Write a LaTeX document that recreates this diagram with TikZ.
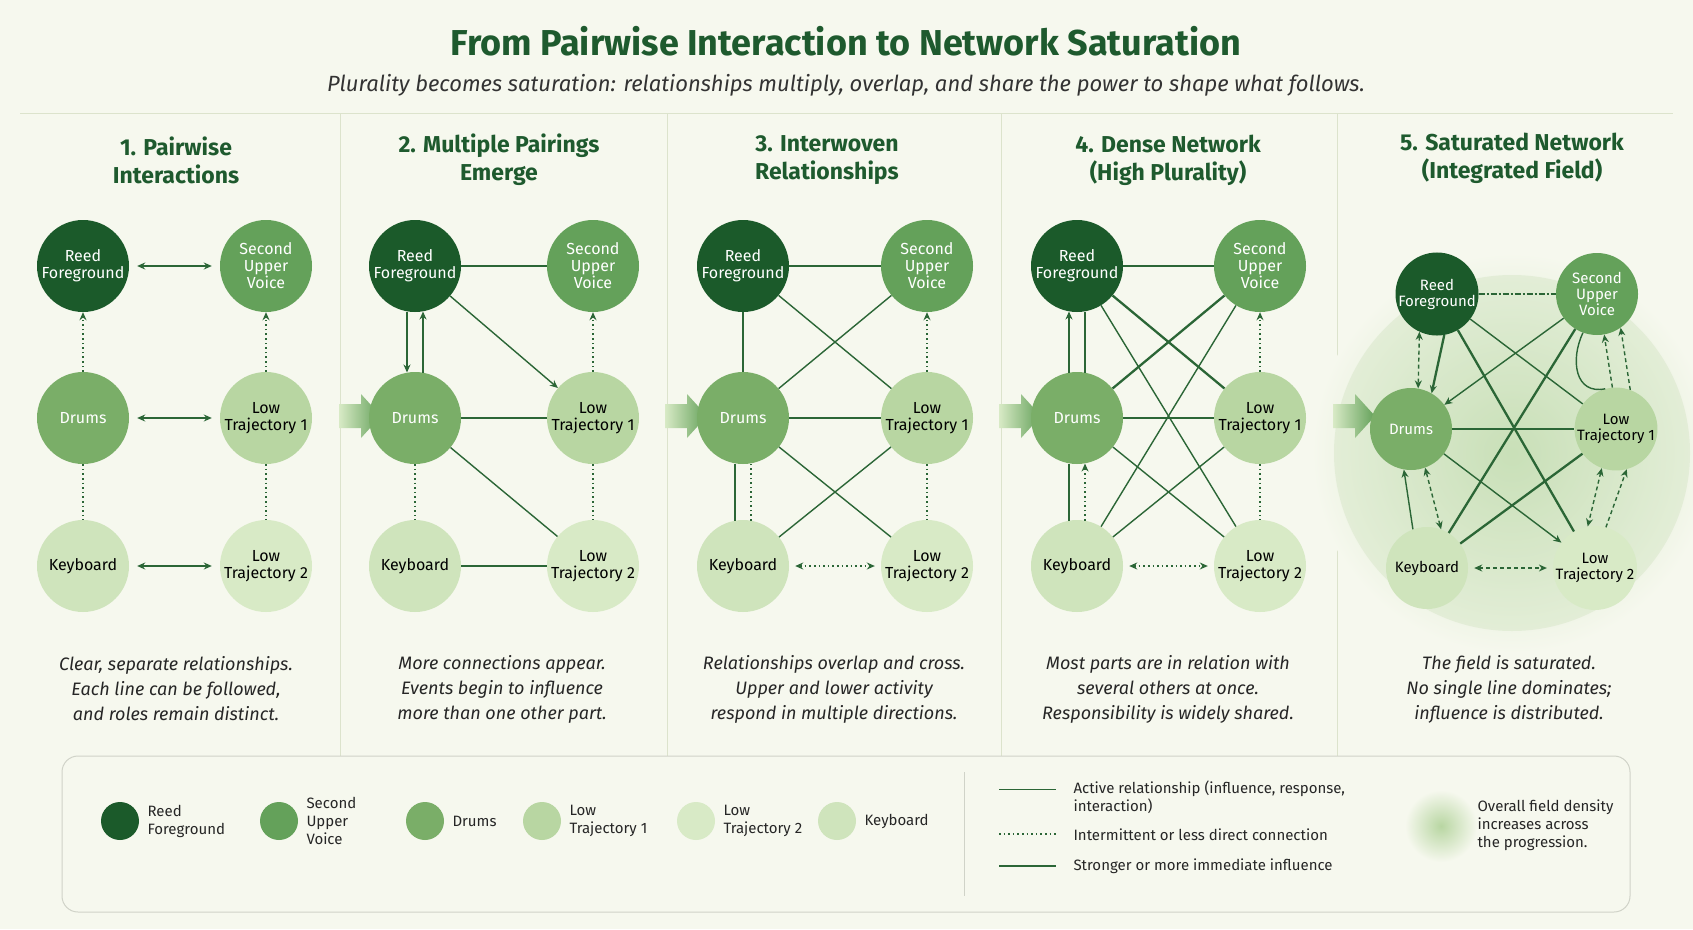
\documentclass[tikz,border=0pt]{standalone}
\usepackage{fontspec}
\setmainfont{Fira Sans}
\usetikzlibrary{arrows.meta,calc}
\definecolor{bg}{HTML}{F6F8EE}
\definecolor{dk}{HTML}{1E5A2E}
\definecolor{ec}{HTML}{2B6636}
\definecolor{cR}{HTML}{1B5A2A}
\definecolor{cS}{HTML}{64A15A}
\definecolor{cD}{HTML}{7AAE68}
\definecolor{cA}{HTML}{B8D6A2}
\definecolor{cB}{HTML}{D8EAC6}
\definecolor{cK}{HTML}{CFE4BC}
\definecolor{sep}{HTML}{DCE3CC}
\definecolor{glow}{HTML}{C9E0B8}
\begin{document}
\begin{tikzpicture}[x=1pt,y=-1pt,
 nd/.style={circle,minimum size=92pt,inner sep=0pt,align=center,font=\fontsize{16}{17}\selectfont},
 sn/.style={nd,minimum size=82pt,font=\fontsize{15}{16}\selectfont},
 wt/.style={text=white},
 ln/.style={draw=ec,line width=1.4pt},
 tk/.style={draw=ec,line width=2.3pt},
 dt/.style={draw=ec,line width=1.6pt,dash pattern=on 1.6pt off 3pt},
 dsh/.style={draw=ec,line width=1.4pt,dash pattern=on 4pt off 3pt},
 ar/.style={-{Stealth[length=8pt,width=7pt]}},
 ba/.style={{Stealth[length=8pt,width=7pt]}-{Stealth[length=8pt,width=7pt]}},
 ptitle/.style={font=\bfseries\fontsize{23}{28}\selectfont,text=dk,align=center},
 captxt/.style={font=\itshape\fontsize{18}{25}\selectfont,align=center,text=black!85},
 lg/.style={font=\fontsize{15}{18}\selectfont,align=left,anchor=west,text=black!85}]
\fill[bg] (0,0) rectangle (1693,929);
\useasboundingbox (0,0) rectangle (1693,929);
\node[font=\bfseries\fontsize{36}{40}\selectfont,text=dk] (title) at (846,41) {From Pairwise Interaction to Network Saturation};
\node[font=\itshape\fontsize{22}{26}\selectfont,text=black!80] (sub) at (846,85) {Plurality becomes saturation: relationships multiply, overlap, and share the power to shape what follows.};
\draw[sep,line width=1pt] (20,113) -- (1673,113);
\foreach \x in {340,667,1001,1337} \draw[sep,line width=1pt] (\x,113) -- (\x,756);
% panel titles
\node[ptitle] (t1) at (176,160) {1. Pairwise\\Interactions};
\node[ptitle] (t2) at (499,160) {2. Multiple Pairings\\Emerge};
\node[ptitle] (t3) at (827,160) {3. Interwoven\\Relationships};
\node[ptitle] (t4) at (1168,160) {4. Dense Network\\(High Plurality)};
\node[ptitle] (t5) at (1512,158) {5. Saturated Network\\(Integrated Field)};
% glow
\shade[inner color=glow,outer color=bg] (1512,453) circle (200);
\fill[glow,opacity=0.35] (1512,453) circle (178);
% panel arrows
\foreach \x in {357,683,1017,1351}{
 \shade[left color=cB,right color=cS] (\x-18,404) -- (\x+4,404) -- (\x+4,394) -- (\x+24,416) -- (\x+4,438) -- (\x+4,428) -- (\x-18,428) -- cycle;}
% nodes
\newcommand\mkpanel[4]{%
 \node[nd,fill=cR,wt] (#1R) at (#2,266) {Reed\\Foreground};
 \node[nd,fill=cS,wt] (#1S) at (#3,266) {Second\\Upper\\Voice};
 \node[nd,fill=cD,wt] (#1D) at (#2,418) {Drums};
 \node[nd,fill=cA] (#1A) at (#3,418) {Low\\Trajectory 1};
 \node[nd,fill=cK] (#1K) at (#2,566) {Keyboard};
 \node[nd,fill=cB] (#1B) at (#3,566) {Low\\Trajectory 2};}
\mkpanel{a}{83}{266}{}
\mkpanel{b}{415}{593}{}
\mkpanel{c}{743}{927}{}
\mkpanel{d}{1077}{1260}{}
\node[sn,fill=cR,wt] (eR) at (1437,294) {Reed\\Foreground};
\node[sn,fill=cS,wt] (eS) at (1597,294) {Second\\Upper\\Voice};
\node[sn,fill=cD,wt] (eD) at (1411,429) {Drums};
\node[sn,fill=cA] (eA) at (1616,429) {Low\\Trajectory 1};
\node[sn,fill=cK] (eK) at (1427,568) {Keyboard};
\node[sn,fill=cB] (eB) at (1595,568) {Low\\Trajectory 2};
% panel 1
\draw[ln,ba,shorten <=8pt,shorten >=8pt] (aR) -- (aS);
\draw[ln,ba,shorten <=8pt,shorten >=8pt] (aD) -- (aA);
\draw[ln,ba,shorten <=8pt,shorten >=8pt] (aK) -- (aB);
\draw[dt,ar] (aD) -- (aR);
\draw[dt,ar] (aA) -- (aS);
\draw[dt] (aD) -- (aK);
\draw[dt] (aA) -- (aB);
% panel 2
\draw[ln] (bR) -- (bS);
\draw[ln,ar] (bR.-100) -- (bD.100);
\draw[ln,ar] (bD.80) -- (bR.-80);
\draw[ln,ar] (bR) -- (bA);
\draw[ln] (bD) -- (bA);
\draw[ln] (bD) -- (bB);
\draw[ln] (bK) -- (bB);
\draw[dt,ar] (bA) -- (bS);
\draw[dt] (bD) -- (bK);
\draw[dt] (bA) -- (bB);
% panel 3
\draw[ln] (cR) -- (cS);
\draw[ln] (cR) -- (cD);
\draw[ln] (cR) -- (cA);
\draw[ln] (cS) -- (cD);
\draw[ln] (cD) -- (cA);
\draw[ln] (cD) -- (cB);
\draw[ln] (cK) -- (cA);
\draw[ln] (cK.100) -- (cD.-100);
\draw[dt] (cK.80) -- (cD.-80);
\draw[dt,ar] (cA) -- (cS);
\draw[dt] (cA) -- (cB);
\draw[dt,ba,shorten <=6pt,shorten >=6pt] (cK) -- (cB);
% panel 4
\draw[ln] (dR) -- (dS);
\draw[ln,ar] (dD.100) -- (dR.-100);
\draw[ln] (dR.-80) -- (dD.80);
\draw[tk] (dR) -- (dA);
\draw[ln] (dR) -- (dB);
\draw[tk] (dS) -- (dD);
\draw[ln] (dS) -- (dK);
\draw[tk] (dD) -- (dA);
\draw[ln] (dD) -- (dB);
\draw[ln] (dK) -- (dA);
\draw[ln] (dK.100) -- (dD.-100);
\draw[dt,ar] (dK.80) -- (dD.-80);
\draw[dt,ar] (dA) -- (dS);
\draw[dt] (dA) -- (dB);
\draw[dt,ba,shorten <=6pt,shorten >=6pt] (dK) -- (dB);
% panel 5
\draw[ec,line width=1.3pt,dash pattern=on 6pt off 2pt on 2pt off 2pt] (eR) -- (eS);
\draw[dsh,ba] (eR.-115) -- (eD.80);
\draw[tk,ar] (eR.-80) -- (eD.60);
\draw[ln] (eR) -- (eA);
\draw[tk] (eR) -- (eB);
\draw[ln,ar] (eS) -- (eD);
\draw[tk] (eK) -- (eS);
\draw[ln] (eS.-110) .. controls (1570,360) and (1575,395) .. (eA.105);
\draw[dsh,ar] (eA.95) -- (eS.-80);
\draw[dsh,ar] (eA.70) -- (eS.-55);
\draw[tk] (eD) -- (eA);
\draw[ln,ar] (eD) -- (eB);
\draw[ln,ar] (eK.110) -- (eD.-100);
\draw[dsh,ba] (eK.70) -- (eD.-70);
\draw[tk] (eK) -- (eA);
\draw[dsh,ba] (eA.-110) -- (eB.100);
\draw[dsh,ar] (eB.75) -- (eA.-75);
\draw[dsh,ba,shorten <=6pt,shorten >=6pt] (eK) -- (eB);
% captions
\node[captxt] (c1) at (176,689) {Clear, separate relationships.\\Each line can be followed,\\and roles remain distinct.};
\node[captxt] (c2) at (502,689) {More connections appear.\\Events begin to influence\\more than one other part.};
\node[captxt] (c3) at (834,689) {Relationships overlap and cross.\\Upper and lower activity\\respond in multiple directions.};
\node[captxt] (c4) at (1168,689) {Most parts are in relation with\\several others at once.\\Responsibility is widely shared.};
\node[captxt] (c5) at (1509,689) {The field is saturated.\\No single line dominates;\\influence is distributed.};
% legend
\draw[sep!80!black!60,line width=1pt,rounded corners=16pt,fill=bg] (62,756) rectangle (1630,912);
\foreach \n/\x/\c/\t in {l1/120/cR/{Reed\\Foreground},l2/279/cS/{Second\\Upper\\Voice},l3/425/cD/{Drums},l4/542/cA/{Low\\Trajectory 1},l5/696/cB/{Low\\Trajectory 2},l6/837/cK/{Keyboard}}{
 \node[circle,fill=\c,minimum size=38pt,inner sep=0pt] (\n) at (\x,821) {};
 \node[lg] (\n t) at (\x+24,821) {\t};}
\draw[sep!80!black!60,line width=1pt] (964,772) -- (964,896);
\coordinate (s1a) at (999,789); \coordinate (s1b) at (1056,789);
\coordinate (s2a) at (999,834); \coordinate (s2b) at (1056,834);
\coordinate (s3a) at (999,866); \coordinate (s3b) at (1056,866);
\draw[ec,line width=1pt] (s1a) -- (s1b);
\draw[dt,line width=1.3pt] (s2a) -- (s2b);
\draw[tk,line width=2.6pt] (s3a) -- (s3b);
\node[lg] (g1) at (1070,797) {Active relationship (influence, response,\\interaction)};
\node[lg] (g2) at (1070,835) {Intermittent or less direct connection};
\node[lg] (g3) at (1070,866) {Stronger or more immediate influence};
\shade[inner color=cA,outer color=bg] (1441,826) circle (36);
\node[lg] (g4) at (1474,825) {Overall field density\\increases across\\the progression.};
\end{tikzpicture}
\end{document}
